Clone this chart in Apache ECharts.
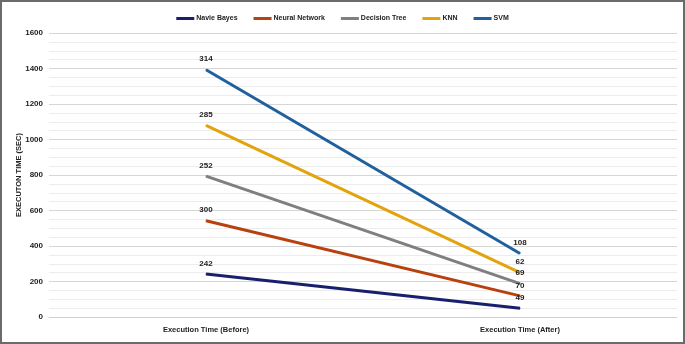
<!DOCTYPE html>
<html>
<head>
<meta charset="utf-8">
<script src="https://cdn.jsdelivr.net/npm/echarts@6/dist/echarts.min.js"></script>
<style>
  html, body { margin: 0; padding: 0; background: #fff; }
  #chart { width: 681px; height: 340px; border: 2px solid #6b6b6b; }
</style>
</head>
<body>
<div id="chart"></div>
<script>
// data (stacked execution times)
var categories = ['Execution Time (Before)', 'Execution Time (After)'];
var naiveBayes = [242, 49];
var neuralNetwork = [300, 70];
var decisionTree = [252, 69];
var knn = [285, 62];
var svm = [314, 108];
var yTicks = [0, 200, 400, 600, 800, 1000, 1200, 1400, 1600];

var font = '"Liberation Sans Narrow", "Liberation Sans", sans-serif';

var names = ['Navie Bayes', 'Neural Network', 'Decision Tree', 'KNN', 'SVM'];
var values = [naiveBayes, neuralNetwork, decisionTree, knn, svm];
var colors = ['#18206e', '#b8420f', '#7f7f7f', '#e2a30c', '#20609f'];

var chart = echarts.init(document.getElementById('chart'));

chart.setOption({
    animation: false,
    textStyle: { fontFamily: font },
    legend: {
        top: 8,
        left: 'center',
        icon: 'rect',
        itemWidth: 18,
        itemHeight: 3,
        itemGap: 16,
        textStyle: { fontSize: 7, fontWeight: 'bold', color: '#222', fontFamily: font, padding: [0, 0, 0, -3] }
    },
    grid: { left: 47, right: 6, top: 31, bottom: 25, outerBoundsMode: 'none', containLabel: false },
    xAxis: {
        type: 'category',
        data: categories,
        boundaryGap: true,
        axisLine: { lineStyle: { color: '#d0d0d0' } },
        axisTick: { show: false },
        axisLabel: { fontSize: 7.5, fontWeight: 'bold', color: '#222', margin: 9, fontFamily: font }
    },
    yAxis: {
        type: 'value',
        min: yTicks[0],
        max: yTicks[yTicks.length - 1],
        interval: 200,
        name: 'EXECUTON TIME (SEC)',
        nameLocation: 'middle',
        nameGap: 26,
        nameMoveOverlap: false,
        nameTextStyle: { fontSize: 7.5, fontWeight: 'bold', color: '#222', fontFamily: font },
        axisLine: { show: false },
        axisTick: { show: false },
        axisLabel: {
            fontSize: 8, fontWeight: 'bold', color: '#222', margin: 6, fontFamily: font,
            formatter: function (v) { return String(v); }
        },
        splitLine: { lineStyle: { color: '#d6d6d6', width: 1 } },
        minorTick: { show: false, splitNumber: 4 },
        minorSplitLine: { show: true, lineStyle: { color: '#ececec', width: 1 } }
    },
    series: names.map(function (n, i) {
        return {
            name: n,
            type: 'line',
            stack: 'total',
            data: values[i],
            symbol: 'circle',
            symbolSize: 1,
            showSymbol: true,
            color: colors[i],
            lineStyle: { width: 3, color: colors[i] },
            label: {
                show: true,
                position: 'top',
                distance: 6,
                fontSize: 8,
                fontWeight: 'bold',
                color: '#222',
                fontFamily: font
            }
        };
    })
});
</script>
</body>
</html>
